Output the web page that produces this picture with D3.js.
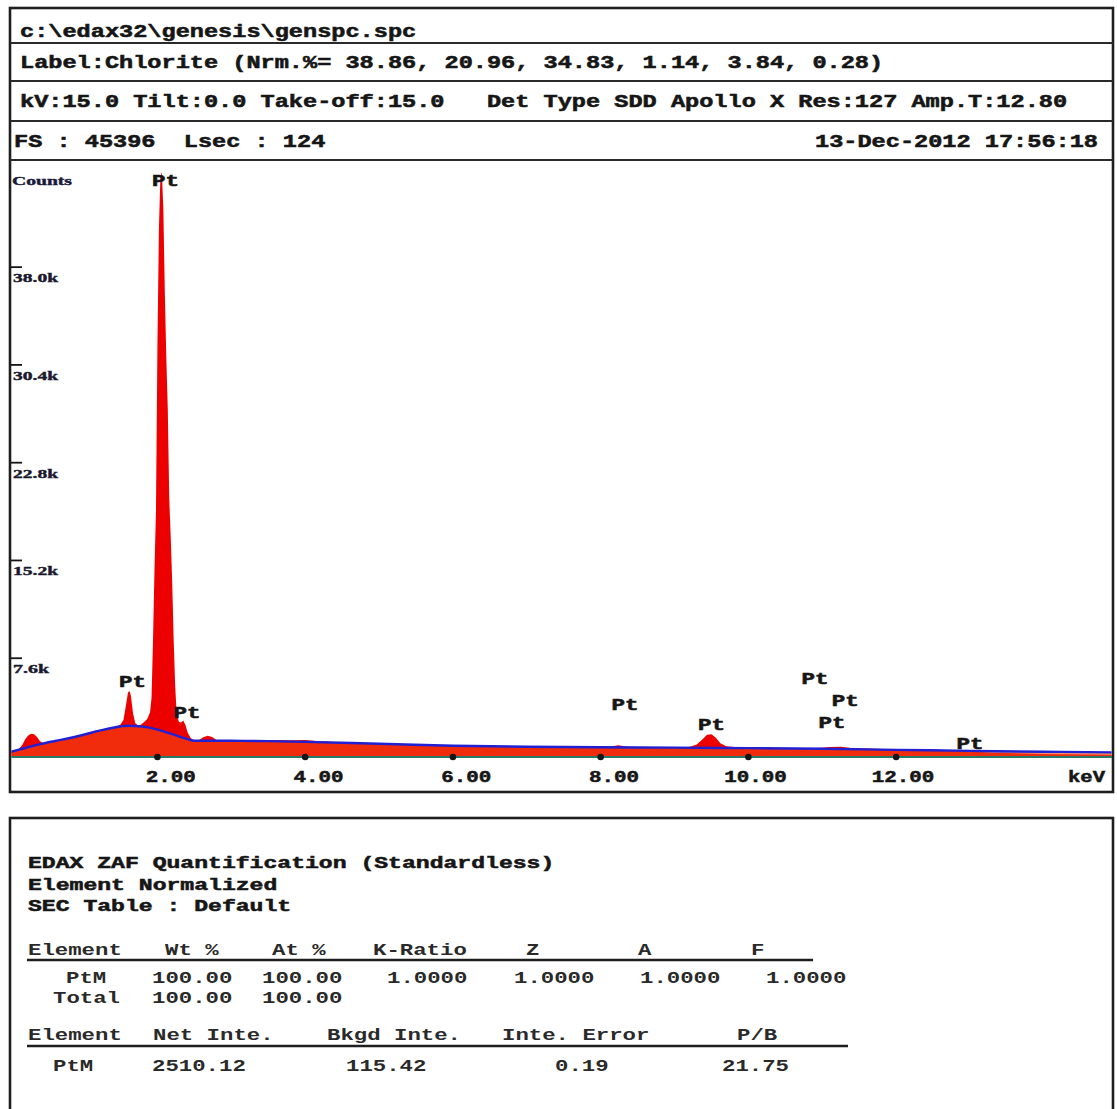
<!DOCTYPE html>
<html><head><meta charset="utf-8">
<script src="https://cdn.jsdelivr.net/npm/d3@7"></script>
<style>
html,body{margin:0;padding:0;background:#fff;}
svg{display:block;}
svg text{white-space:pre;}
</style></head>
<body>
<svg id="c" width="1117" height="1109"></svg>
<script>
// ---- header text ----
const headerLines = [
  "c:\\edax32\\genesis\\genspc.spc",
  "Label:Chlorite (Nrm.%= 38.86, 20.96, 34.83, 1.14, 3.84, 0.28)",
  "kV:15.0 Tilt:0.0 Take-off:15.0   Det Type SDD Apollo X Res:127 Amp.T:12.80",
  "FS : 45396  Lsec : 124"
];
const headerDate = "13-Dec-2012 17:56:18";

// ---- spectrum (energy in keV, counts) ----
const specKeV = [0.00,0.06,0.12,0.17,0.21,0.25,0.29,0.33,0.37,0.41,0.46,0.55,0.65,0.75,0.85,0.95,1.05,1.15,1.25,1.35,1.45,1.50,1.54,1.57,1.60,1.62,1.64,1.67,1.70,1.74,1.78,1.82,1.86,1.90,1.92,1.94,1.96,1.98,2.00,2.02,2.04,2.06,2.08,2.10,2.12,2.14,2.16,2.18,2.20,2.22,2.24,2.26,2.29,2.32,2.35,2.38,2.41,2.45,2.50,2.56,2.62,2.68,2.74,2.80,2.90,3.00,3.20,3.40,3.60,3.80,4.00,4.20,4.40,4.60,4.80,5.00,5.20,5.50,5.80,6.00,6.20,6.40,6.60,7.00,7.40,7.80,8.10,8.24,8.36,8.60,9.00,9.20,9.30,9.38,9.44,9.50,9.56,9.62,9.70,9.85,10.00,10.20,10.50,10.80,11.00,11.10,11.25,11.40,11.70,12.00,12.20,12.40,12.60,12.90,13.00,13.30,14.00,15.00];
const specCounts = [300,380,520,850,1300,1600,1720,1700,1480,1150,980,1050,1180,1320,1480,1620,1790,1950,2060,2180,2300,2450,2800,3800,4900,5080,4700,3300,2550,2380,2450,2650,2850,3400,4500,9000,14500,19000,32000,41000,45000,45396,42500,36000,31000,27000,20000,17000,13500,9000,5500,3300,2650,2600,2750,2400,1800,1400,1200,1220,1450,1580,1480,1250,1190,1180,1160,1190,1250,1220,1250,1140,1080,1010,1030,980,920,900,840,810,840,845,780,730,705,690,700,830,720,680,660,700,900,1300,1650,1700,1420,1000,760,680,640,660,610,600,640,700,710,620,560,500,520,530,470,440,380,260,150,100];

// ---- fitted background ----
const bkgKeV = [0.00,0.20,0.40,0.60,0.80,1.00,1.20,1.40,1.60,1.80,2.00,2.20,2.40,2.50,3.00,3.50,4.00,5.00,6.00,7.00,8.00,9.00,10.00,11.00,12.00,13.00,14.00,15.00];
const bkgCounts = [300,600,900,1150,1380,1650,1950,2200,2350,2280,2050,1700,1330,1180,1180,1160,1100,950,800,720,680,650,610,560,480,400,330,280];

// ---- axes ----
const fullScale = 45396;
const yTickValues = [7600,15200,22800,30400,38000];
const yTickLabels = ["7.6k","15.2k","22.8k","30.4k","38.0k"];
const xTickValues = [2,4,6,8,10,12];
const xTickLabels = ["2.00","4.00","6.00","8.00","10.00","12.00"];

// ---- Pt line markers (line energy keV, marker height in counts) ----
const markerKeV = [2.05,1.60,2.34,8.27,9.44,10.84,11.25,11.07,12.94];
const markerCounts = [44770,5830,3420,4040,2490,6060,4350,2640,1010];
const markerText = "Pt";

// ---- quantification results ----
const quantTitle = ["EDAX ZAF Quantification (Standardless)","Element Normalized","SEC Table : Default"];
const table1Header = ["Element","Wt %","At %","K-Ratio","Z","A","F"];
const table1Rows = [
  ["PtM","100.00","100.00","1.0000","1.0000","1.0000","1.0000"],
  ["Total","100.00","100.00"]
];
const table2Header = ["Element","Net Inte.","Bkgd Inte.","Inte. Error","P/B"];
const table2Rows = [["PtM","2510.12","115.42","0.19","21.75"]];

// ================= drawing =================
const svg = d3.select("#c");
const mono = "'Liberation Mono','DejaVu Sans Mono',monospace";
const serif = "'Liberation Serif','DejaVu Serif',serif";
const ink = "#161616";

// outer frames
const frame = {x0:10, x1:1113, y0:8, y1:792, rows:[43,81,121,160]};
svg.append("rect").attr("x",frame.x0).attr("y",frame.y0)
  .attr("width",frame.x1-frame.x0).attr("height",frame.y1-frame.y0)
  .attr("fill","none").attr("stroke","#1e1e1e").attr("stroke-width",2.6);
svg.selectAll("line.row").data(frame.rows).join("line").attr("class","row")
  .attr("x1",frame.x0).attr("x2",frame.x1).attr("y1",d=>d).attr("y2",d=>d)
  .attr("stroke","#2a2a2a").attr("stroke-width",2.2);

const lower = {x0:10, x1:1113, y0:818, y1:1130};
svg.append("rect").attr("x",lower.x0).attr("y",lower.y0)
  .attr("width",lower.x1-lower.x0).attr("height",lower.y1-lower.y0)
  .attr("fill","none").attr("stroke","#1e1e1e").attr("stroke-width",2.6);

// bold text helper (slight outline thickens the strokes)
function boldText(sel, size, w){
  return sel.attr("font-family",mono).attr("font-weight","bold").attr("font-size",size)
    .attr("fill",ink).attr("stroke",ink).attr("stroke-width",w);
}

// header rows
const hdrCharW = 14.15;
const hdrPos = [{x:20,y:37},{x:20,y:68},{x:20,y:107},{x:14,y:147}];
headerLines.forEach((t,i)=>{
  boldText(svg.append("text"),18,0.55).attr("x",hdrPos[i].x).attr("y",hdrPos[i].y)
    .attr("xml:space","preserve")
    .attr("textLength",t.length*hdrCharW).attr("lengthAdjust","spacingAndGlyphs")
    .text(t);
});
boldText(svg.append("text"),18,0.55).attr("x",1098).attr("y",147).attr("text-anchor","end")
  .attr("textLength",headerDate.length*hdrCharW).attr("lengthAdjust","spacingAndGlyphs")
  .text(headerDate);

// scales
const x = d3.scaleLinear().domain([0,15]).range([9.7, 9.7+73.87*15]);
const y = d3.scaleLinear().domain([0,fullScale]).range([756,172]);
const baseY = y(0)+1;

const defs = svg.append("defs");
defs.append("clipPath").attr("id","plotClip").append("rect")
  .attr("x",11.5).attr("y",161).attr("width",1100).attr("height",baseY-161);

const plot = svg.append("g").attr("clip-path","url(#plotClip)");

const spec = specKeV.map((k,i)=>({k, c:specCounts[i]}));
const bkg = bkgKeV.map((k,i)=>({k, c:bkgCounts[i]}));

// measured spectrum
plot.append("path").datum(spec)
  .attr("d", d3.area().x(d=>x(d.k)).y0(baseY).y1(d=>y(d.c)))
  .attr("fill","#ec0000");
// background region
plot.append("path").datum(bkg)
  .attr("d", d3.area().x(d=>x(d.k)).y0(baseY).y1(d=>y(d.c)).curve(d3.curveMonotoneX))
  .attr("fill","#f44a14").attr("opacity",0.6);
// background fit line
plot.append("path").datum(bkg)
  .attr("d", d3.line().x(d=>x(d.k)).y(d=>y(d.c)).curve(d3.curveMonotoneX))
  .attr("fill","none").attr("stroke","#2020d4").attr("stroke-width",2.4);

// energy axis
svg.append("line").attr("x1",11.5).attr("x2",1112).attr("y1",baseY).attr("y2",baseY)
  .attr("stroke","#2a7868").attr("stroke-width",2.2);
svg.selectAll("circle.xt").data(xTickValues).join("circle").attr("class","xt")
  .attr("cx",d=>x(d)).attr("cy",baseY).attr("r",3.3).attr("fill",ink);
const xCharW = 12.5;
svg.selectAll("text.xl").data(xTickLabels).join("text").attr("class","xl")
  .call(s=>boldText(s,16,0.5))
  .attr("x",(d,i)=>x(xTickValues[i]) + 7 - xCharW*(d.indexOf(".")+0.5))
  .attr("y",782)
  .attr("textLength",d=>d.length*xCharW).attr("lengthAdjust","spacingAndGlyphs")
  .text(d=>d);
boldText(svg.append("text"),16,0.5).attr("x",1105).attr("y",782).attr("text-anchor","end")
  .attr("textLength",37).attr("lengthAdjust","spacingAndGlyphs").text("keV");

// counts axis
svg.selectAll("line.yt").data(yTickValues).join("line").attr("class","yt")
  .attr("x1",11).attr("x2",22).attr("y1",d=>y(d)).attr("y2",d=>y(d))
  .attr("stroke",ink).attr("stroke-width",1.8);
svg.selectAll("text.yl").data(yTickLabels).join("text").attr("class","yl")
  .attr("x",13).attr("y",(d,i)=>y(yTickValues[i])+15)
  .attr("font-family",serif).attr("font-weight","bold").attr("font-size",12.5)
  .attr("fill","#1a1a2e").attr("stroke","#1a1a2e").attr("stroke-width",0.4)
  .attr("textLength",d=>d.length*9).attr("lengthAdjust","spacingAndGlyphs")
  .text(d=>d);
svg.append("text").attr("x",12).attr("y",185)
  .attr("font-family",serif).attr("font-weight","bold").attr("font-size",12.5)
  .attr("fill","#1a1a3a").attr("stroke","#1a1a3a").attr("stroke-width",0.4)
  .attr("textLength",60).attr("lengthAdjust","spacingAndGlyphs").text("Counts");

// element line markers
svg.selectAll("text.pk").data(markerKeV).join("text").attr("class","pk")
  .call(s=>boldText(s,17,0.6))
  .attr("x",d=>x(d)-9).attr("y",(d,i)=>y(markerCounts[i])+6)
  .attr("textLength",27).attr("lengthAdjust","spacingAndGlyphs")
  .text(markerText);

// quantification block
const qCharW = 13.85, tCharW = 13.4;
const titleY = [868,890,911];
quantTitle.forEach((t,i)=>{
  boldText(svg.append("text"),17,0.55).attr("x",28).attr("y",titleY[i])
    .attr("textLength",t.length*qCharW).attr("lengthAdjust","spacingAndGlyphs").text(t);
});

function cells(list, xs, yy){
  list.forEach((t,i)=>{
    svg.append("text").attr("x",xs[i]).attr("y",yy)
      .attr("font-family",mono).attr("font-weight","bold").attr("font-size",16).attr("fill","#2a2a2a")
      .attr("textLength",t.length*tCharW).attr("lengthAdjust","spacingAndGlyphs").text(t);
  });
}
cells(table1Header, [28,165,272,373,526,638,751], 955);
svg.append("line").attr("x1",27).attr("x2",813).attr("y1",960).attr("y2",960)
  .attr("stroke","#1e1e1e").attr("stroke-width",2.6);
cells(table1Rows[0], [66,152,262,387,514,640,766], 983);
cells(table1Rows[1], [53,152,262], 1003);
cells(table2Header, [28,153,327,502,737], 1040);
svg.append("line").attr("x1",27).attr("x2",848).attr("y1",1046).attr("y2",1046)
  .attr("stroke","#1e1e1e").attr("stroke-width",2.6);
cells(table2Rows[0], [53,152,346,555,722], 1071);
</script>
</body></html>
